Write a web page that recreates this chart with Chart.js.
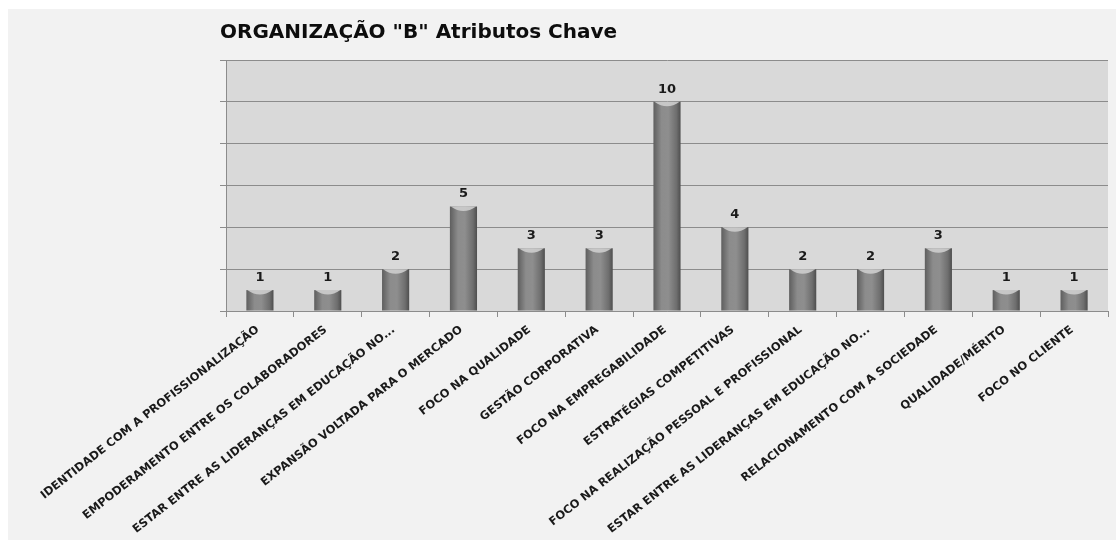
<!DOCTYPE html>
<html>
<head>
<meta charset="utf-8">
<script src="https://cdn.jsdelivr.net/npm/chart.js@4.4.0/dist/chart.umd.min.js"></script>
<style>
	html, body { margin: 0; padding: 0; background: #ffffff; }
	#box {
		position: absolute;
		left: 8px;
		top: 9px;
		width: 1108px;
		height: 531px;
		background: #f2f2f2;
	}
</style>
</head>
<body>
<div id="box"><canvas id="orgChart"></canvas></div>
<script>
// categorias (eixo x)
const categorias = [
	'IDENTIDADE COM A PROFISSIONALIZAÇÃO',
	'EMPODERAMENTO ENTRE OS COLABORADORES',
	'ESTAR ENTRE AS LIDERANÇAS EM EDUCAÇÃO NO...',
	'EXPANSÃO VOLTADA PARA O MERCADO',
	'FOCO NA QUALIDADE',
	'GESTÃO CORPORATIVA',
	'FOCO NA EMPREGABILIDADE',
	'ESTRATÉGIAS COMPETITIVAS',
	'FOCO NA REALIZAÇÃO PESSOAL E PROFISSIONAL',
	'ESTAR ENTRE AS LIDERANÇAS EM EDUCAÇÃO NO...',
	'RELACIONAMENTO COM A SOCIEDADE',
	'QUALIDADE/MÉRITO',
	'FOCO NO CLIENTE'
]

// valores
const valores = [1, 1, 2, 5, 3, 3, 10, 4, 2, 2, 3, 1, 1]

// eixo y
const yMin = 0
const yMax = 12
const yPasso = 2

const titulo = 'ORGANIZAÇÃO "B" Atributos Chave'

const barPct = 0.4
const fonte = '"DejaVu Sans"'

// fundo cinza da area do grafico
const plotBg = {
	id: 'plotBg',
	beforeDraw(chart) {
		const { ctx, chartArea } = chart
		ctx.save()
		ctx.fillStyle = '#d9d9d9'
		ctx.fillRect(chartArea.left, chartArea.top, chartArea.right - chartArea.left, chartArea.bottom - chartArea.top)
		ctx.restore()
	}
}

// topo claro das barras + rotulos de valor
const barExtras = {
	id: 'barExtras',
	afterDatasetsDraw(chart) {
		const ctx = chart.ctx
		const meta = chart.getDatasetMeta(0)
		ctx.save()
		meta.data.forEach((bar, i) => {
			const half = bar.width / 2
			// tampa
			ctx.fillStyle = 'rgba(205,205,205,0.9)'
			ctx.beginPath()
			ctx.moveTo(bar.x - half + 1, bar.y)
			ctx.lineTo(bar.x + half - 1, bar.y)
			ctx.quadraticCurveTo(bar.x, bar.y + 9, bar.x - half + 1, bar.y)
			ctx.fill()

			ctx.fillStyle = '#1a1a1a'
			ctx.font = 'bold 13px ' + fonte
			ctx.textAlign = 'center'
			ctx.textBaseline = 'bottom'
			ctx.fillText(valores[i], bar.x, bar.y - 6)
		})
		ctx.restore()
	}
}

function corBarra(c) {
	const chart = c.chart
	const x = chart.scales && chart.scales.x
	if (!x || c.type !== 'data') return '#808080'
	const cx = x.getPixelForValue(c.dataIndex)
	const w = (x.width / categorias.length) * barPct
	if (!isFinite(cx) || !isFinite(w) || w <= 0) return '#808080'
	const g = chart.ctx.createLinearGradient(cx - w / 2, 0, cx + w / 2, 0)
	g.addColorStop(0, '#5e5e5e')
	g.addColorStop(0.3, '#8c8c8c')
	g.addColorStop(0.55, '#8e8e8e')
	g.addColorStop(0.85, '#6e6e6e')
	g.addColorStop(1, '#4e4e4e')
	return g
}

const ctx = document.getElementById('orgChart').getContext('2d')
const orgChart = new Chart(ctx, {
	type: 'bar',
	data: {
		labels: categorias,
		datasets: [
			{
				data: valores,
				backgroundColor: corBarra,
				borderWidth: 0,
				categoryPercentage: 1,
				barPercentage: barPct,
			},
		],
	},
	options: {
		responsive: true,
		maintainAspectRatio: false,
		animation: false,
		layout: {
			// o titulo comeca um pouco antes da area do grafico
			padding: { top: 12, right: 8, left: 212, bottom: 0 },
		},
		plugins: {
			legend: { display: false },
			tooltip: { enabled: false },
			title: {
				display: true,
				text: titulo,
				align: 'start',
				color: '#0d0d0d',
				font: { family: fonte, size: 20, weight: 'bold' },
				padding: { top: 0, bottom: 15 },
			},
		},
		scales: {
			x: {
				grid: {
					drawOnChartArea: false,
					color: '#8c8c8c',
					tickLength: 6,
					offset: true,
				},
				border: { color: '#8c8c8c', width: 1 },
				ticks: {
					color: '#1a1a1a',
					font: { family: fonte, size: 11.5, weight: 'bold' },
					maxRotation: 38,
					minRotation: 38,
					autoSkip: false,
					padding: 6,
					labelOffset: -2,
				},
				afterFit(scale) {
					scale.height = 229
				},
			},
			y: {
				min: yMin,
				max: yMax,
				ticks: {
					stepSize: yPasso,
					color: '#ffffff',
					font: { family: fonte, size: 12 },
					padding: 12,
				},
				grid: {
					color: '#8c8c8c',
					tickLength: 6,
				},
				border: { color: '#8c8c8c', width: 1 },
				afterFit(scale) {
					scale.width = 6
				},
			},
		},
	},
	plugins: [plotBg, barExtras],
})
</script>
</body>
</html>
